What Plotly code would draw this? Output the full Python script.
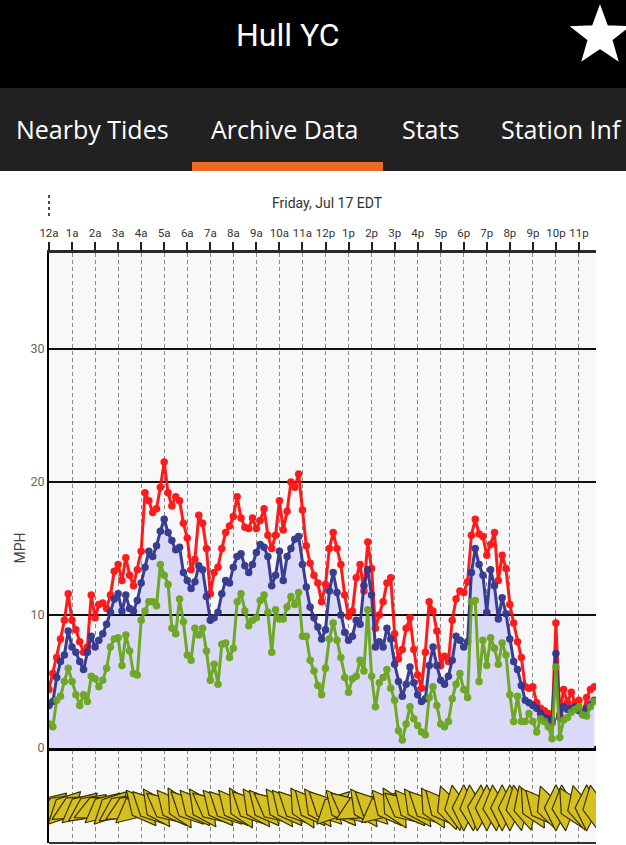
import math
import plotly.graph_objects as go

# ---------------- data ----------------
station = "Hull YC"
tabs = ["Nearby Tides", "Archive Data", "Stats", "Station Inf"]
day_title = "Friday, Jul 17 EDT"
hour_labels = ["12a", "1a", "2a", "3a", "4a", "5a", "6a", "7a", "8a", "9a", "10a", "11a",
               "12p", "1p", "2p", "3p", "4p", "5p", "6p", "7p", "8p", "9p", "10p", "11p"]
y_ticks = [0, 10, 20, 30]

# 10-minute samples (hours after midnight)
gust = [4.4, 5.6, 6.8, 8.2, 9.6, 11.6, 9.6, 8.9, 8.0, 7.2, 7.6, 11.5, 9.8, 10.8, 10.9, 10.5,
        11.5, 13.3, 13.8, 12.6, 14.3, 13.0, 12.2, 13.4, 14.8, 19.2, 18.6, 17.7, 18.0, 19.6,
        21.5, 19.2, 18.2, 18.9, 18.6, 16.9, 15.8, 13.4, 14.2, 17.5, 16.9, 15.0, 11.6, 13.2,
        13.6, 15.0, 16.2, 16.7, 17.4, 18.9, 17.3, 16.6, 16.5, 17.3, 16.5, 17.1, 18.0, 16.0,
        15.0, 16.0, 18.6, 16.4, 17.8, 20.0, 19.6, 20.6, 17.9, 15.2, 13.9, 13.0, 12.4, 11.0,
        12.3, 15.0, 16.2, 15.0, 13.8, 11.5, 9.9, 10.3, 12.8, 13.8, 11.8, 15.5, 13.5, 9.0,
        10.0, 11.0, 12.4, 12.8, 8.6, 6.7, 7.4, 9.0, 9.8, 7.4, 5.5, 4.5, 7.2, 11.0, 10.3, 8.8,
        6.2, 6.9, 6.5, 9.6, 11.2, 11.8, 11.7, 12.5, 16.0, 17.2, 16.1, 15.9, 14.5, 15.3, 16.2,
        12.6, 14.5, 13.5, 10.8, 9.4, 8.0, 6.8, 4.6, 4.5, 4.6, 3.4, 3.0, 2.8, 2.6, 1.9, 9.4,
        2.5, 4.4, 3.4, 4.2, 3.4, 3.6, 2.5, 3.8, 4.4, 4.6]
avg = [3.2, 3.5, 5.3, 6.5, 7.0, 8.8, 7.6, 7.2, 6.5, 5.9, 7.2, 8.4, 7.6, 8.1, 8.6, 9.3,
       10.2, 11.2, 11.6, 10.3, 11.5, 10.5, 10.3, 11.1, 12.4, 13.6, 14.8, 14.4, 15.2, 16.3,
       17.2, 16.2, 15.6, 14.9, 15.1, 13.2, 12.6, 12.0, 12.5, 13.7, 13.4, 11.4, 9.6, 9.8,
       10.2, 11.6, 12.6, 12.4, 13.6, 14.4, 14.6, 13.7, 13.2, 13.8, 14.7, 15.3, 15.1, 14.4,
       12.2, 13.0, 14.8, 12.6, 14.4, 15.0, 15.7, 15.9, 13.8, 12.1, 10.6, 9.8, 9.1, 8.2,
       8.9, 11.8, 13.2, 11.7, 10.0, 8.7, 8.1, 8.4, 9.6, 9.3, 12.2, 13.4, 11.5, 7.6,
       8.0, 7.6, 9.0, 8.2, 6.3, 5.0, 3.9, 4.8, 6.1, 4.9, 4.0, 3.5, 3.7, 6.2, 7.6, 6.2,
       5.1, 4.8, 5.4, 6.6, 8.4, 8.1, 7.6, 8.0, 13.2, 15.0, 13.8, 13.0, 10.2, 13.4, 12.2,
       9.7, 11.3, 10.1, 8.2, 6.5, 5.9, 4.7, 3.6, 3.4, 3.2, 3.0, 2.6, 2.3, 2.2, 2.1, 7.1,
       2.3, 3.1, 2.9, 3.0, 3.1, 2.8, 2.6, 3.0, 3.3, 3.6]
lull = [1.8, 1.6, 3.6, 3.9, 5.0, 6.0, 5.0, 4.0, 3.2, 4.0, 3.5, 5.4, 5.2, 4.6, 5.1, 6.0,
        7.6, 8.2, 8.3, 6.2, 8.5, 7.3, 5.6, 5.5, 9.6, 10.3, 11.0, 11.0, 10.7, 13.8,
        13.0, 12.3, 9.0, 8.6, 11.2, 9.5, 7.0, 6.6, 9.0, 8.5, 9.0, 7.3, 5.1, 6.3,
        4.8, 7.8, 7.9, 6.8, 7.5, 11.0, 11.6, 10.3, 9.2, 9.6, 9.8, 11.1, 11.5, 10.2,
        7.2, 10.4, 9.7, 9.7, 10.6, 11.4, 10.8, 11.7, 8.4, 8.4, 6.6, 5.8, 4.7, 4.0,
        6.0, 8.2, 9.4, 8.1, 6.8, 5.3, 4.2, 5.2, 5.4, 6.6, 5.8, 10.4, 5.4, 3.1,
        4.9, 5.3, 5.9, 4.5, 3.6, 1.3, 0.6, 1.8, 3.1, 2.2, 1.7, 1.2, 1.0, 3.8, 4.6, 3.2,
        1.8, 1.6, 2.0, 3.7, 4.8, 5.6, 4.4, 3.8, 11.0, 11.1, 5.0, 8.1, 6.2, 8.3, 7.5,
        6.3, 7.9, 7.0, 4.0, 2.0, 3.9, 2.0, 2.0, 2.6, 2.0, 1.2, 2.2, 2.0, 1.6, 0.7, 6.1,
        0.8, 2.1, 2.3, 2.7, 2.9, 3.1, 2.5, 2.4, 3.1, 3.5]
times = [k / 6 for k in range(len(gust))]

# wind direction glyph angles, every 20 minutes (degrees, clockwise from up)
dir_angle = [50, 55, 45, 60, 50, 55, 65, 50, 45, 55, 60, 50,
             140, 135, 145, 130, 140, 150, 135, 140, 145, 130, 140, 135,
             140, 150, 135, 145, 140, 130, 145, 140, 135, 150, 140, 145,
             135, 45, 140, 130, 60, 145, 135, 50, 140, 150, 130, 140,
             145, 135, 150, 140, 160, 170, 180, 175, 185, 180, 175, 180,
             180, 170, 165, 150, 140, 160, 180, 175, 150, 165, 180, 170]
dir_times = [k / 3 for k in range(len(dir_angle))]

# ---------------- layout helpers ----------------
W, H = 626, 845
def px(x):
    return x / W
def py(y):
    return 1 - y / H

X_MAX = 23.74
Y_MIN, Y_MAX = -7.14, 37.22
ARROW_Y = -4.5

fig = go.Figure()

# lavender area under the average line
fig.add_trace(go.Scatter(x=times, y=avg, mode="lines", line=dict(width=0),
                         fill="tozeroy", fillcolor="#dadaf8", hoverinfo="skip",
                         showlegend=False))
# horizontal reference lines drawn over the area
ref_x, ref_y = [], []
for v in y_ticks[1:]:
    ref_x += [0, X_MAX, None]
    ref_y += [v, v, None]
fig.add_trace(go.Scatter(x=ref_x, y=ref_y, mode="lines",
                         line=dict(color="#111111", width=2), hoverinfo="skip",
                         showlegend=False))

for vals, col in [(gust, "#ff1010"), (avg, "#30358c"), (lull, "#6aa51c")]:
    fig.add_trace(go.Scatter(x=times, y=vals, mode="lines+markers",
                             line=dict(color=col, width=3),
                             marker=dict(color=col, size=7.5),
                             opacity=0.95, showlegend=False))

# wind direction band
fig.add_trace(go.Scatter(x=dir_times, y=[ARROW_Y] * len(dir_angle), mode="markers",
                         marker=dict(symbol="diamond-tall", angle=dir_angle, size=33,
                                     color="#d6c020",
                                     line=dict(color="#3a3300", width=1.2)),
                         showlegend=False, hoverinfo="skip"))

narrow = "Roboto"

fig.update_xaxes(range=[0, X_MAX], domain=[px(49), px(596)], side="top",
                 tickvals=list(range(len(hour_labels))), ticktext=hour_labels,
                 tickangle=0, automargin=False,
                 ticks="outside", ticklen=8, tickwidth=1.5, tickcolor="#222",
                 tickfont=dict(family=narrow, size=11.5, color="#333"),
                 showline=True, linecolor="#2a2a2a", linewidth=3,
                 showgrid=True, gridcolor="#888888", gridwidth=1, griddash="4px,3px",
                 zeroline=False, fixedrange=True)
fig.update_yaxes(range=[Y_MIN, Y_MAX], domain=[py(843), py(253)], automargin=False,
                 tickvals=y_ticks, ticktext=[str(v) for v in y_ticks],
                 tickfont=dict(family=narrow, size=12.5, color="#666"),
                 showgrid=False, zeroline=True, zerolinecolor="#000", zerolinewidth=5,
                 showline=True, linecolor="#000", linewidth=2,
                 title=dict(text="MPH", font=dict(family="Roboto", size=14, color="#444"),
                            standoff=2),
                 fixedrange=True)

# star outline for the header (decorative)
cx, cy, ro, ri = 600, 36, 29, 12
pts = []
for i in range(10):
    r = ro if i % 2 == 0 else ri
    a = math.radians(i * 36)
    pts.append((px(cx + r * math.sin(a)), py(cy - r * math.cos(a))))
star_path = "M " + " L ".join(f"{x:.5f},{y:.5f}" for x, y in pts) + " Z"

shapes = [
    dict(type="rect", xref="paper", yref="paper", x0=0, x1=1, y0=py(88), y1=1,
         fillcolor="#000000", line=dict(width=0), layer="below"),
    dict(type="rect", xref="paper", yref="paper", x0=0, x1=1, y0=py(171), y1=py(88),
         fillcolor="#212121", line=dict(width=0), layer="below"),
    dict(type="rect", xref="paper", yref="paper", x0=px(192), x1=px(383), y0=py(171), y1=py(162),
         fillcolor="#ee6a26", line=dict(width=0)),
    dict(type="path", xref="paper", yref="paper", path=star_path,
         fillcolor="#ffffff", line=dict(color="#ffffff", width=2)),
    dict(type="line", xref="paper", yref="paper", x0=px(49), x1=px(49), y0=py(216), y1=py(192),
         line=dict(color="#111", width=1.5, dash="dot")),
    dict(type="line", xref="paper", yref="paper", x0=px(49), x1=px(596), y0=py(843), y1=py(843),
         line=dict(color="#333", width=2)),
]

annotations = [
    dict(text=station, x=px(288), y=py(35), xref="paper", yref="paper", showarrow=False,
         font=dict(family="Roboto", size=32, color="#ffffff"), xanchor="center", yanchor="middle"),
    dict(text=day_title, x=px(327), y=py(203), xref="paper", yref="paper", showarrow=False,
         font=dict(family="Roboto", size=14, color="#333"), xanchor="center", yanchor="middle"),
]
tab_left = [14, 209, 400, 499]
for t, xl in zip(tabs, tab_left):
    annotations.append(dict(text=t, x=px(xl), y=py(129), xref="paper", yref="paper",
                            showarrow=False, xanchor="left", yanchor="middle",
                            font=dict(family="Open Sans", size=25, color="#ffffff")))

fig.update_layout(width=W, height=H, margin=dict(l=0, r=0, t=0, b=0),
                  paper_bgcolor="#ffffff", plot_bgcolor="#f8f8f8",
                  shapes=shapes, annotations=annotations, showlegend=False)

fig.write_html("out.html")
